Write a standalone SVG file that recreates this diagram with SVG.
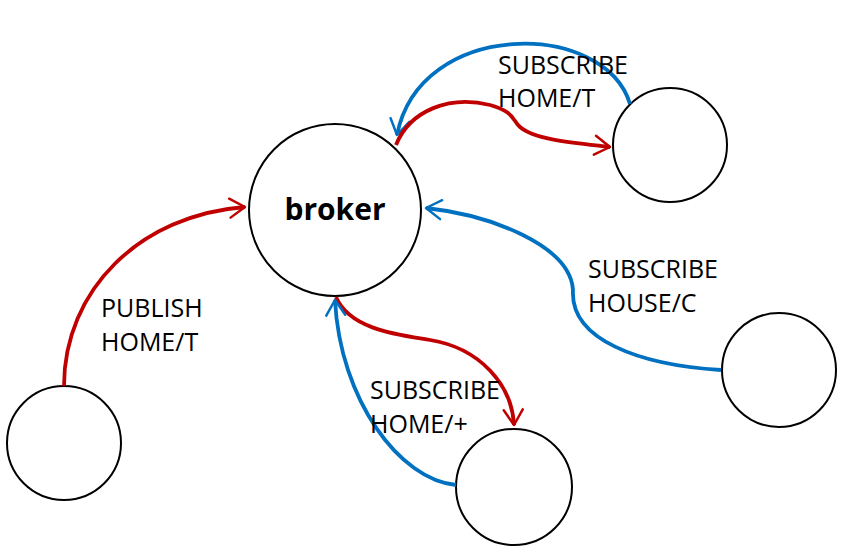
<svg xmlns="http://www.w3.org/2000/svg" width="854" height="550" viewBox="0 0 854 550">
<style>
.node{fill:#fff;stroke:#000;stroke-width:2}
.lbl{font-family:"Open Sans","Liberation Sans",sans-serif;font-size:25px;fill:#000}
.red{fill:none;stroke:#C00000;stroke-width:3.8;marker-end:url(#ar)}
.blue{fill:none;stroke:#0070C0;stroke-width:3.8;marker-end:url(#ab)}
</style>
<defs>
<marker id="ar" viewBox="0 0 12 12" refX="10" refY="6" markerWidth="6" markerHeight="6" orient="auto" markerUnits="strokeWidth">
<path d="M2 1 L10 6 L2 11" fill="none" stroke="#C00000" stroke-width="1.3" stroke-linecap="round" stroke-linejoin="round"/>
</marker>
<marker id="ab" viewBox="0 0 12 12" refX="10" refY="6" markerWidth="6" markerHeight="6" orient="auto" markerUnits="strokeWidth">
<path d="M2 1 L10 6 L2 11" fill="none" stroke="#0070C0" stroke-width="1.3" stroke-linecap="round" stroke-linejoin="round"/>
</marker>
</defs>
<g id="nodes">
<g id="broker"><circle class="node" cx="335" cy="210" r="86"/><text x="335" y="220" text-anchor="middle" font-family="Open Sans, Liberation Sans, sans-serif" font-weight="bold" font-size="30">broker</text></g>
<g id="client-topright"><circle class="node" cx="670" cy="145" r="57"/></g>
<g id="client-right"><circle class="node" cx="779" cy="370" r="57"/></g>
<g id="client-bottom"><circle class="node" cx="514" cy="487" r="58"/></g>
<g id="client-left"><circle class="node" cx="64" cy="443" r="57"/></g>
</g>
<g id="connectors">
<path class="red" d="M64 386 C64 290 140 215 245 207"/>
<path class="blue" d="M630 104 C605 20 420 18 397 135"/>
<path class="red" d="M396 145 C410 110 450 95 490 105 C515 112 512 120 520 127 C535 140 575 143 610 147"/>
<path class="blue" d="M721 370 C640 365 570 340 573 290 C570 245 490 215 426 208"/>
<path class="red" d="M336 297 C350 330 400 335 430 340 C480 348 512 385 514 425"/>
<path class="blue" d="M456 485 C400 480 340 400 335 300"/>
</g>
<g id="labels">
<text class="lbl" x="498" y="74">SUBSCRIBE</text>
<text class="lbl" x="498" y="107">HOME/T</text>
<text class="lbl" x="101" y="317">PUBLISH</text>
<text class="lbl" x="101" y="351">HOME/T</text>
<text class="lbl" x="370" y="399">SUBSCRIBE</text>
<text class="lbl" x="370" y="433">HOME/+</text>
<text class="lbl" x="588" y="278">SUBSCRIBE</text>
<text class="lbl" x="588" y="312">HOUSE/C</text>
</g>
</svg>
